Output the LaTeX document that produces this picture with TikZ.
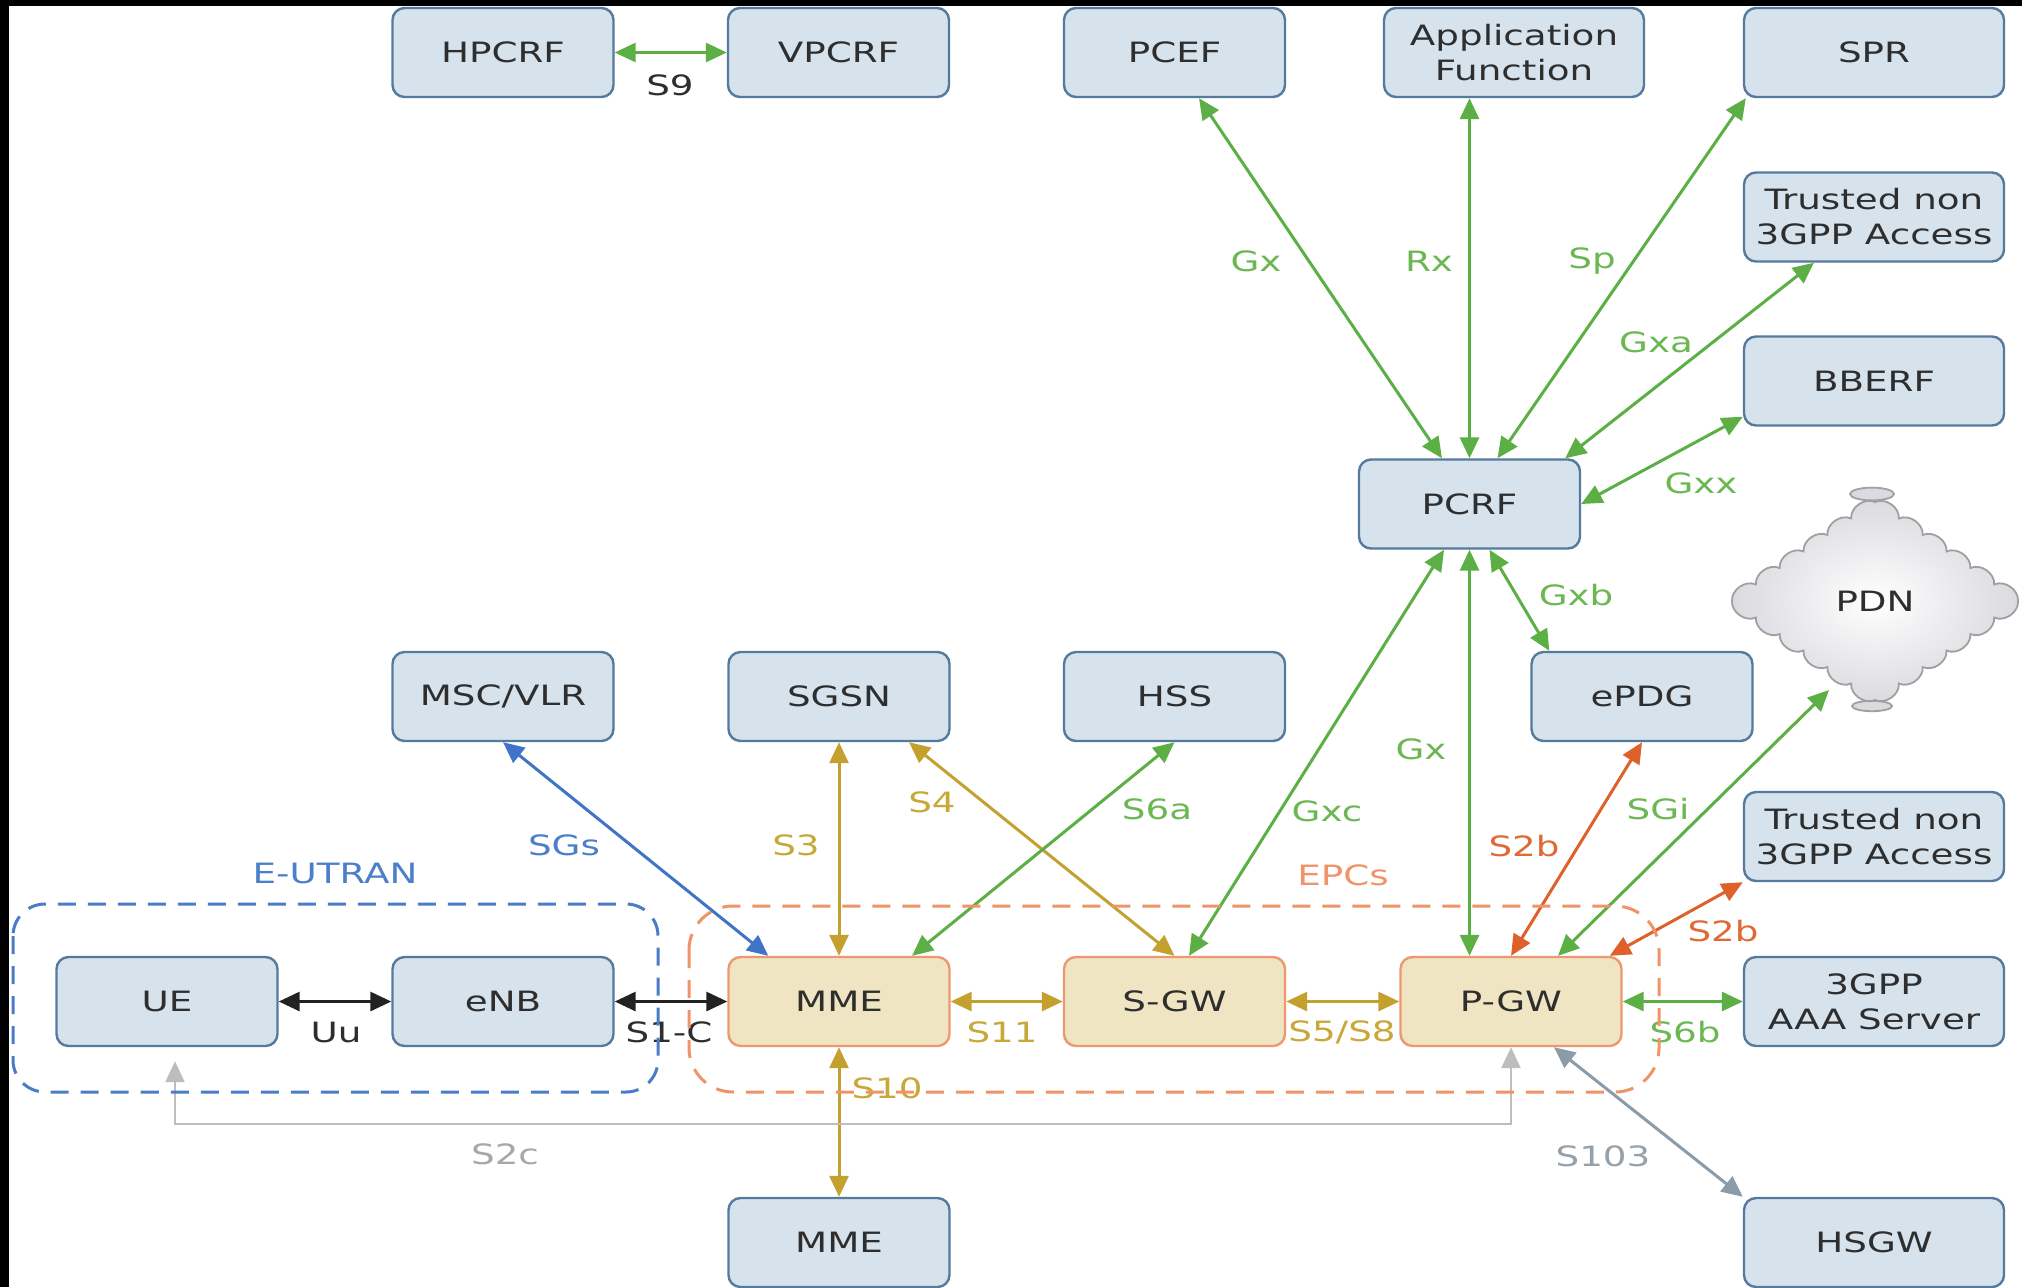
\documentclass[tikz,border=0pt]{standalone}
\usepackage{fontspec}
\setmainfont{DejaVu Sans}[FakeStretch=1.33]
\usetikzlibrary{arrows.meta}

\definecolor{boxfill}{HTML}{D7E3EC}
\definecolor{boxline}{HTML}{557A9E}
\definecolor{corefill}{HTML}{F0E5C2}
\definecolor{coreline}{HTML}{EC9870}
\definecolor{txt}{HTML}{2E2E2E}
\definecolor{lgreen}{HTML}{5CAF45}
\definecolor{tgreen}{HTML}{6BB853}
\definecolor{lgold}{HTML}{C4A12E}
\definecolor{tgold}{HTML}{C9A83A}
\definecolor{lblue}{HTML}{3F74C6}
\definecolor{tblue}{HTML}{4C7FC9}
\definecolor{lred}{HTML}{DF602A}
\definecolor{tred}{HTML}{E06A35}
\definecolor{lgray}{HTML}{BDBDBD}
\definecolor{tgray}{HTML}{A8A8A8}
\definecolor{lslate}{HTML}{8B9BA8}
\definecolor{tslate}{HTML}{97A1AA}
\definecolor{lblack}{HTML}{222222}
\definecolor{epcdash}{HTML}{EE9468}
\definecolor{eutdash}{HTML}{4A7CC8}
\definecolor{cloudline}{HTML}{A0A0A0}
\definecolor{cloudgray}{HTML}{DADADF}

\begin{document}
\begin{tikzpicture}[x=0.5pt,y=-0.5pt,
  font=\fontsize{14}{17.5}\selectfont,
  >={Triangle[length=10.5pt,width=9.5pt]},
  box/.style={draw=boxline, fill=boxfill, line width=1.2pt, rounded corners=6pt,
    minimum width=110.5pt, minimum height=44.5pt, inner sep=0pt,
    text=txt, align=center},
  wbox/.style={box, minimum width=130pt},
  core/.style={box, draw=coreline, fill=corefill},
  link/.style={<->, line width=1.5pt},
  gl/.style={link, draw=lgreen},
  yl/.style={link, draw=lgold},
  bl/.style={link, draw=lblue},
  rl/.style={link, draw=lred},
  kl/.style={link, draw=lblack},
  sl/.style={link, draw=lslate},
  s2c/.style={link, draw=lgray, line width=1.3pt},
  lab/.style={inner sep=0pt},
  region/.style={line width=1.5pt, dash pattern=on 9pt off 6pt},
  scallop/.style={bend left=60}
]
\useasboundingbox (0,0) rectangle (2022,1287);
\fill[white] (0,0) rectangle (2022,1287);

% ---- network elements ----
\node[box]  (hpcrf) at (503,52.5)    {HPCRF};
\node[box]  (vpcrf) at (838.5,52.5)  {VPCRF};
\node[box]  (pcef)  at (1174.5,52.5) {PCEF};
\node[wbox] (af)    at (1514,52.5)   {Application\\Function};
\node[wbox] (spr)   at (1874,52.5)   {SPR};
\node[wbox] (tna)   at (1874,217)    {Trusted non\\3GPP Access};
\node[wbox] (bberf) at (1874,381)    {BBERF};
\node[box]  (pcrf)  at (1469.5,504)  {PCRF};
\node[box]  (msc)   at (503,696.5)   {MSC/VLR};
\node[box]  (sgsn)  at (839,696.5)   {SGSN};
\node[box]  (hss)   at (1174.5,696.5){HSS};
\node[box]  (epdg)  at (1642,696.5)  {ePDG};
\node[wbox] (tnb)   at (1874,836.5)  {Trusted non\\3GPP Access};
\node[box]  (ue)    at (167,1001.5)  {UE};
\node[box]  (enb)   at (503,1001.5)  {eNB};
\node[core] (mme)   at (839,1001.5)  {MME};
\node[core] (sgw)   at (1174.5,1001.5) {S-GW};
\node[core] (pgw)   at (1511,1001.5) {P-GW};
\node[wbox] (aaa)   at (1874,1001.5) {3GPP\\AAA Server};
\node[box]  (mme2)  at (839,1242.5)  {MME};
\node[wbox] (hsgw)  at (1874,1242.5) {HSGW};

% ---- PDN cloud: scalloped diamond with a small cap at each end ----
\path[draw=cloudline, line width=0.9pt, fill=cloudgray]
  (1872,494) ellipse [x radius=11pt, y radius=3.2pt];
\path[draw=cloudline, line width=0.9pt, fill=cloudgray]
  (1872,706) ellipse [x radius=10pt, y radius=2.6pt];
\path[draw=cloudline, line width=0.9pt, inner color=white, outer color=cloudgray]
  (1875,502)
  \foreach \n in {1,...,6} { to[scallop] ++(23.833,16.5) }
  \foreach \n in {1,...,6} { to[scallop] ++(-23.833,16.5) }
  \foreach \n in {1,...,6} { to[scallop] ++(-23.833,-16.5) }
  \foreach \n in {1,...,6} { to[scallop] ++(23.833,-16.5) }
  -- cycle;
\node[text=txt] (pdn) at (1875,601) {PDN};
\coordinate (pdnin) at (1829,690);
\coordinate (s2cbend) at (0,1124);

% ---- interfaces ----
\draw[gl] (hpcrf.east) -- (vpcrf.west);
\draw[gl] ([xshift=12.25pt]pcef.south) -- ([xshift=-13.75pt]pcrf.north);
\draw[gl] (af.south -| pcrf.north) -- (pcrf.north);
\draw[gl] ([xshift=1.5pt]spr.south west) -- ([xshift=14pt]pcrf.north);
\draw[gl] ([xshift=-30pt]tna.south) -- ([xshift=-8pt]pcrf.north east);
\draw[gl] ([yshift=5pt]bberf.south west) -- (pcrf.east);
\draw[gl] ([xshift=-12.75pt]pcrf.south) -- ([xshift=7.25pt]sgw.north);
\draw[gl] (pcrf.south) -- (pcrf.south |- pgw.north);
\draw[gl] ([xshift=10pt]pcrf.south) -- ([xshift=9.5pt]epdg.north west);
\draw[rl] (epdg.south) -- (pgw.north);
\draw[gl] ([xshift=23.5pt]pgw.north) -- (pdnin);
\draw[rl] ([xshift=-6.5pt]pgw.north east) -- (tnb.south west);
\draw[gl] (pgw.east) -- (aaa.west);
\draw[sl] ([xshift=21.5pt]pgw.south) -- (hsgw.north west);
\draw[kl] (ue.east) -- (enb.west);
\draw[kl] (enb.east) -- (mme.west);
\draw[bl] (msc.south) -- ([xshift=20.5pt]mme.north west);
\draw[yl] (sgsn.south) -- (mme.north);
\draw[yl] ([xshift=35pt]sgsn.south) -- (sgw.north);
\draw[gl] (hss.south) -- ([xshift=36.5pt]mme.north);
\draw[yl] (mme.east) -- (sgw.west);
\draw[yl] (sgw.east) -- (pgw.west);
\draw[yl] (mme.south) -- (mme2.north);
\draw[s2c] ([xshift=4pt,yshift=-7pt]ue.south) |- (pgw.south |- s2cbend) -- (pgw.south);

% ---- interface names ----
\node[lab, text=txt]    (lS9)   at (670,85)    {S9};
\node[lab, text=tgreen] (lGx)   at (1256,261)  {Gx};
\node[lab, text=tgreen] (lRx)   at (1429,261)  {Rx};
\node[lab, text=tgreen] (lSp)   at (1592,261)  {Sp};
\node[lab, text=tgreen] (lGxa)  at (1656,342)  {Gxa};
\node[lab, text=tgreen] (lGxx)  at (1701,483)  {Gxx};
\node[lab, text=tgreen] (lGxb)  at (1576,595)  {Gxb};
\node[lab, text=tgreen] (lGx2)  at (1421,749)  {Gx};
\node[lab, text=tgreen] (lGxc)  at (1327,811)  {Gxc};
\node[lab, text=tgreen] (lS6a)  at (1157,809)  {S6a};
\node[lab, text=tgreen] (lSGi)  at (1658,809)  {SGi};
\node[lab, text=tred]   (lS2b)  at (1524,846)  {S2b};
\node[lab, text=tred]   (lS2b2) at (1723,931)  {S2b};
\node[lab, text=tgreen] (lS6b)  at (1685,1032) {S6b};
\node[lab, text=tslate] (lS103) at (1603,1156) {S103};
\node[lab, text=tblue]  (lSGs)  at (564,845)   {SGs};
\node[lab, text=tgold]  (lS3)   at (796,845)   {S3};
\node[lab, text=tgold]  (lS4)   at (932,802)   {S4};
\node[lab, text=txt]    (lUu)   at (336,1032)  {Uu};
\node[lab, text=txt]    (lS1C)  at (669,1032)  {S1-C};
\node[lab, text=tgold]  (lS11)  at (1002,1032) {S11};
\node[lab, text=tgold]  (lS5)   at (1342,1032) {S5/S8};
\node[lab, text=tgold]  (lS10)  at (887,1088)  {S10};
\node[lab, text=tgray]  (lS2c)  at (505,1154)  {S2c};

% ---- domains ----
\draw[region, draw=eutdash, rounded corners=16pt] (13,904) rectangle (658,1092);
\draw[region, draw=epcdash, rounded corners=22pt] (689,906) rectangle (1659,1092);
\node[lab, text=tblue] (eutran) at (335,873)  {E-UTRAN};
\node[lab, text=epcdash] (epcs) at (1343,875) {EPCs};

% ---- frame edges ----
\fill[black] (0,0) rectangle (9,1287);
\fill[black] (0,0) rectangle (2022,6);
\end{tikzpicture}
\end{document}
